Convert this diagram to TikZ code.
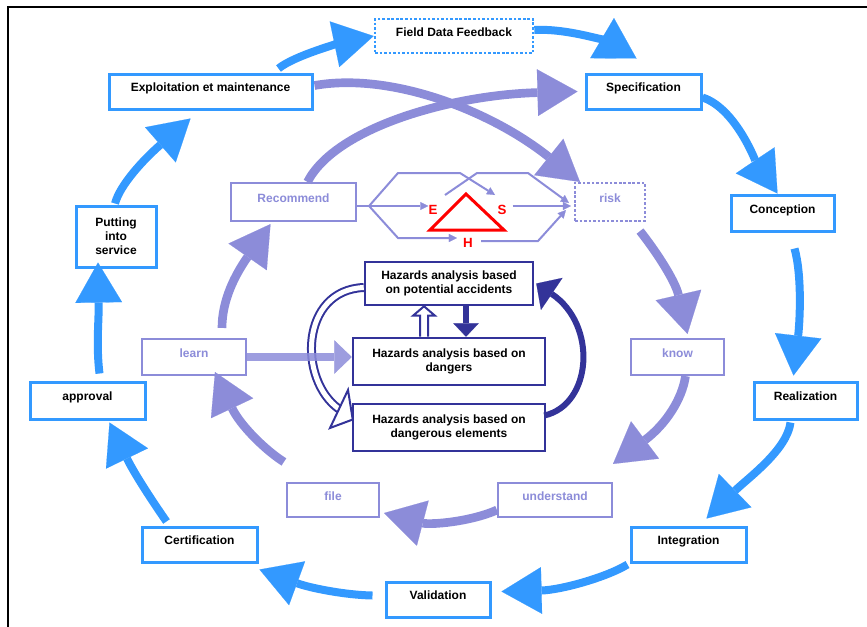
\documentclass[tikz,border=0pt]{standalone}
\usepackage{fontspec}
\setmainfont{Liberation Sans}
\usetikzlibrary{arrows.meta,calc}
\newdimen\upx
\upx=0.75pt
\definecolor{cblue}{RGB}{51,153,255}
\definecolor{cpurp}{RGB}{140,140,217}
\definecolor{cnavy}{RGB}{51,51,153}
\begin{document}
\begin{tikzpicture}[x=0.75pt,y=-0.75pt,
  font=\bfseries\fontsize{9}{10.5}\selectfont,
  box/.style={fill=white, inner sep=0pt, align=center},
  single/.style={text height=7pt, text depth=7pt},
  bbox/.style={box, draw=cblue, line width=2.25pt},
  pbox/.style={box, single, draw=cpurp, line width=1.6pt, text=cpurp},
  nbox/.style={box, draw=cnavy, line width=1.9pt},
  dots/.style={dash pattern=on 2pt off 1.4pt},
  barr/.style={draw=cblue, line width=6pt, -{Triangle[length=30pt,width=35pt,line width=0.1pt]}},
  parr/.style={draw=cpurp, line width=6.5pt, -{Triangle[length=30pt,width=35pt,line width=0.1pt]}},
  hexl/.style={draw=cpurp, line width=1.5pt},
  hexa/.style={hexl, -{Triangle[length=6pt,width=6pt,line width=0.1pt]}},
  redlbl/.style={text=red, inner sep=0pt, font=\bfseries\fontsize{10}{12}\selectfont},
  hollow/.style={draw=cnavy, line width=1.5pt, fill=white, line join=miter}
]
\useasboundingbox (0,0) rectangle (867,626);
\draw[black, line width=1.5pt] (7.5,628) -- (7.5,6.5) -- (869,6.5);

% outer cycle
\node[bbox, single, dots, line width=2pt, minimum width=158\upx, minimum height=34\upx] (fdf) at (454,36) {Field Data Feedback};
\node[bbox, single, minimum width=203\upx, minimum height=35\upx] (expl) at (210.5,91.5) {Exploitation et maintenance};
\node[bbox, single, minimum width=115\upx, minimum height=35\upx] (spec) at (643.5,91.5) {Specification};
\node[bbox, single, minimum width=103\upx, minimum height=36\upx] (conc) at (782.5,213) {Conception};
\node[bbox, single, minimum width=103\upx, minimum height=37\upx] (real) at (805.5,400.5) {Realization};
\node[bbox, single, minimum width=115\upx, minimum height=35\upx] (integ) at (688.5,544.5) {Integration};
\node[bbox, single, minimum width=104\upx, minimum height=35\upx] (valid) at (438,599.5) {Validation};
\node[bbox, single, minimum width=115\upx, minimum height=35\upx] (cert) at (199.5,544.5) {Certification};
\node[bbox, single, minimum width=115\upx, minimum height=37\upx] (appr) at (87.5,400.5) {approval};
\node[bbox, minimum width=80\upx, minimum height=61\upx] (put) at (116,236.5) {Putting\\into\\service};

% inner cycle
\node[pbox, minimum width=125\upx, minimum height=38\upx] (rec) at (293.5,202) {Recommend};
\node[pbox, dots, line width=1.6pt, minimum width=70\upx, minimum height=38\upx] (risk) at (610,202) {risk};
\node[pbox, minimum width=104\upx, minimum height=36\upx] (learn) at (194,357) {learn};
\node[pbox, minimum width=93\upx, minimum height=36\upx] (know) at (677.5,357) {know};
\node[pbox, minimum width=92\upx, minimum height=34\upx] (file) at (333,500) {file};
\node[pbox, minimum width=114\upx, minimum height=34\upx] (under) at (555,500) {understand};

% hazards boxes
\node[nbox, minimum width=168\upx, minimum height=43\upx] (hpa) at (449,283.5) {Hazards analysis based\\on potential accidents};
\node[nbox, minimum width=192\upx, minimum height=47\upx] (hd) at (449,361.5) {Hazards analysis based on\\dangers};
\node[nbox, minimum width=192\upx, minimum height=47\upx] (hde) at (449,427.5) {Hazards analysis based on\\dangerous elements};

% E S H
\draw[red, line width=2.25pt] (466,194) -- (504,230) -- (430,230) -- cycle;
\node[redlbl] (E) at (433,210) {E};
\node[redlbl] (S) at (502,210) {S};
\node[redlbl] (H) at (468,243) {H};

\coordinate (B) at ($(rec.east)+(12,4)$);
\draw[hexl] ($(rec.east)+(0,4)$) -- (B);
\draw[hexa] (B) -- (B -| E.west);
\draw[hexa] (B) -- (398,173) -- (460,173) -- (495,195);
\draw[hexa] (445,195) -- (477,173) -- (528,173) -- ($(risk.west)+(-5,1)$);
\draw[hexa] ($(S.east |- B)+(6,0)$) -- ($(risk.west)+(-3,4)$);
\draw[hexa] (B) -- (398,238) -- ($(H.west)+(-6,-5)$);
\draw[hexa] ($(H.east)+(8,-2)$) -- (538,241) -- ($(risk.west)+(-8,8)$);

% outer blue arrows
\draw[barr] ($(expl.north)+(68,-4)$) .. controls (295,55) and (345,42) .. (fdf.west);
\draw[barr] ($(fdf.east)+(0,-6)$) .. controls (570,28) and (612,44) .. ($(spec.north)+(-7,-14)$);
\draw[barr] ($(spec.east)+(0,6)$) .. controls (735,108) and (755,160) .. ($(conc.north)+(-5,0)$);
\draw[barr] ($(conc.south)+(12,16)$) .. controls (802,275) and (800,320) .. ($(real.north)+(-12,-5)$);
\draw[barr] ($(real.south)+(-15,2)$) .. controls (787,450) and (748,478) .. ($(integ.north)+(18,-7)$);
\draw[barr] ($(integ.south west)+(-2,1)$) .. controls (605,578) and (560,590) .. ($(valid.east)+(10,-8)$);
\draw[barr] ($(valid.west)+(-12,-4)$) .. controls (345,595) and (310,588) .. ($(cert.south east)+(1,6)$);
\draw[barr] ($(cert.north)+(-33,-4)$) .. controls (155,505) and (135,475) .. ($(appr.south)+(22,2)$);
\draw[barr] ($(appr.north)+(12,-7)$) .. controls (96,345) and (99,320) .. ($(put.south)+(-18,-6)$);
\draw[barr] ($(put.north)+(-1,-1)$) .. controls (120,185) and (143,160) .. ($(expl.south)+(-20,8)$);

% inner purple arrows
\draw[parr] ($(rec.north)+(14,0)$) .. controls (335,128) and (450,95) .. ($(spec.west)+(-7,0)$);
\draw[parr] ($(expl.east)+(1,-6)$) .. controls (390,72) and (490,110) .. ($(risk.north)+(-30,0)$);
\draw[parr] ($(risk.south)+(30,9)$) .. controls (655,250) and (675,280) .. ($(know.north)+(10,-4)$);
\draw[parr] ($(know.south)+(8,0)$) .. controls (682,400) and (665,425) .. ($(under.north)+(58,-18)$);
\draw[parr] ($(under.west)+(0,10)$) .. controls (470,522) and (430,525) .. ($(file.east)+(4,13)$);
\draw[parr] ($(file.north west)+(-2,-20)$) .. controls (265,450) and (240,425) .. ($(learn.south)+(21,-4)$);
\draw[parr] ($(learn.north)+(28,-10)$) .. controls (222,300) and (235,275) .. ($(rec.south)+(-23,2)$);

% navy arrows
\draw[cnavy, line width=4.5pt, -{Triangle[length=14pt,width=29pt,line width=0.1pt]}] ($(hde.east)+(-2,-12)$) .. controls (592,405) and (598,325) .. ($(hpa.east)+(2,0)$);
\coordinate (ob) at (339,409);
\draw[cnavy, line width=1.5pt, double=white, double distance=3.75pt] ($(hpa.west)+(0,4)$) .. controls (300,290) and (298,380) .. (ob);
\draw[hollow] (348,390) -- ($(hde.west)+(1,-8)$) -- (330,428) -- cycle;
\draw[hollow] ($(hd.north)+(-29,0)$) -- ($(hd.north)+(-29,-21)$) -- ($(hd.north)+(-36,-21)$) -- ($(hpa.south)+(-25,0)$) -- ($(hd.north)+(-14,-21)$) -- ($(hd.north)+(-21,-21)$) -- ($(hd.north)+(-21,0)$);
\draw[cnavy, line width=5pt, -{Triangle[length=10pt,width=19pt,line width=0.1pt]}] ($(hpa.south)+(17,0)$) -- ($(hd.north)+(17,0)$);

\draw[draw=cpurp, opacity=0.85, line width=6pt, -{Triangle[length=13pt,width=25pt,line width=0.1pt]}] (learn.east) -- (learn.east -| hd.west);
\end{tikzpicture}
\end{document}
